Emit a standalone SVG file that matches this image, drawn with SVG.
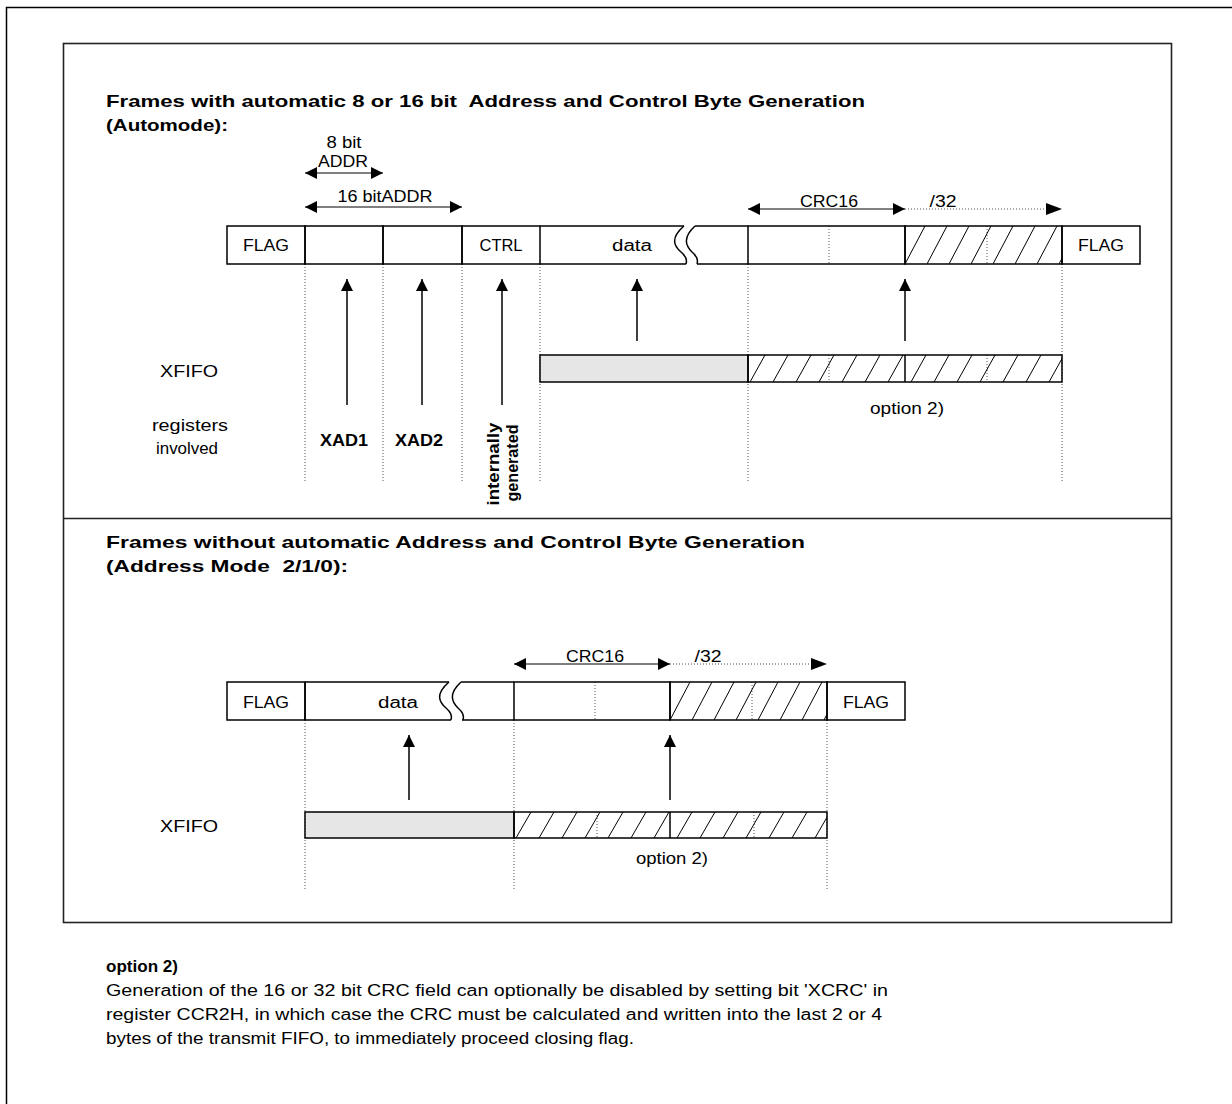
<svg xmlns="http://www.w3.org/2000/svg" width="1232" height="1104" viewBox="0 0 1232 1104">
<style>
text{font-family:"Liberation Sans",Arial,sans-serif;fill:#000;white-space:pre}
.t{font-size:16px}
.c{text-anchor:middle}
.b{font-weight:bold}
.h{font-size:17px;font-weight:bold}
.box{fill:none;stroke:#000;stroke-width:1.5}
.ln{fill:none;stroke:#000;stroke-width:1.5}
.dot{fill:none;stroke:#555;stroke-width:1;stroke-dasharray:1 2}
.hl{stroke:#000;stroke-width:1;fill:none}
.ah{fill:#000}
</style>
<defs>
<pattern id="pTop" patternUnits="userSpaceOnUse" x="905" y="226" width="22" height="38"><path class="hl" d="M0 38 L20 0"/></pattern>
<pattern id="pFifo" patternUnits="userSpaceOnUse" x="748" y="355" width="23" height="27"><path class="hl" d="M2 27 L17 0"/></pattern>
<pattern id="pBot" patternUnits="userSpaceOnUse" x="670" y="682" width="22" height="38"><path class="hl" d="M0 38 L20 0"/></pattern>
<pattern id="pFifoB" patternUnits="userSpaceOnUse" x="514" y="812" width="23" height="26"><path class="hl" d="M2 26 L17 0"/></pattern>
<marker id="arr" viewBox="0 0 10 10" refX="10" refY="5" markerWidth="16" markerHeight="12" markerUnits="userSpaceOnUse" orient="auto-start-reverse"><path d="M0 0 L10 5 L0 10 Z" class="ah"/></marker>
</defs>

<g id="outer-frame">
<path class="ln" d="M6.5 1104 V7.5 H1232"/>
<rect x="63.5" y="43.5" width="1108" height="879" fill="none" stroke="#222" stroke-width="1.6"/>
<line x1="63" y1="518.5" x2="1172" y2="518.5" stroke="#222" stroke-width="1.6"/>
</g>

<g id="title-top">
<text class="h" x="106" y="107" textLength="759" lengthAdjust="spacingAndGlyphs" xml:space="preserve">Frames with automatic 8 or 16 bit  Address and Control Byte Generation</text>
<text class="h" x="106" y="131" textLength="122" lengthAdjust="spacingAndGlyphs">(Automode):</text>
</g>

<g id="dotted-top">
<path class="dot" d="M305 264 V483 M383 264 V483 M462 264 V483 M540 264 V483 M748 264 V483 M1062 264 V483"/>
<path class="dot" d="M829 226 V264 M987 226 V264 M829 355 V382 M987 355 V382"/>
</g>

<g id="frame-top">
<rect class="box" x="227" y="226" width="78" height="38"/>
<rect class="box" x="305" y="226" width="78" height="38"/>
<rect class="box" x="383" y="226" width="79" height="38"/>
<rect class="box" x="462" y="226" width="78" height="38"/>
<path class="ln" d="M540 226 H684 M540 264 H686 M695 226 H748 M697 264 H748"/>
<path class="ln" d="M684 226 C670 238 674 246 681 252 C687 257 687 261 686 264"/>
<path class="ln" d="M695 226 C682 238 686 246 692 252 C698 257 698 261 697 264"/>
<rect class="box" x="748" y="226" width="157" height="38"/>
<rect x="905" y="226" width="157" height="38" fill="url(#pTop)" stroke="#000" stroke-width="1.5"/>
<rect class="box" x="1062" y="226" width="78" height="38"/>
<text class="t c" x="266" y="251" textLength="46" lengthAdjust="spacingAndGlyphs">FLAG</text>
<text class="t c" x="501" y="251" textLength="43" lengthAdjust="spacingAndGlyphs">CTRL</text>
<text class="t c" x="632" y="251" textLength="40" lengthAdjust="spacingAndGlyphs">data</text>
<text class="t c" x="1101" y="251" textLength="46" lengthAdjust="spacingAndGlyphs">FLAG</text>
</g>

<g id="dims-top">
<text class="t c" x="344" y="148" textLength="35" lengthAdjust="spacingAndGlyphs">8 bit</text>
<text class="t c" x="343" y="167" textLength="50" lengthAdjust="spacingAndGlyphs">ADDR</text>
<line class="hl" x1="305" y1="173" x2="383" y2="173" marker-start="url(#arr)" marker-end="url(#arr)"/>
<text class="t c" x="385" y="202" textLength="95" lengthAdjust="spacingAndGlyphs">16 bitADDR</text>
<line class="hl" x1="305" y1="207" x2="462" y2="207" marker-start="url(#arr)" marker-end="url(#arr)"/>
<text class="t c" x="829" y="207" textLength="58" lengthAdjust="spacingAndGlyphs">CRC16</text>
<text class="t c" x="943" y="207" textLength="27" lengthAdjust="spacingAndGlyphs">/32</text>
<line class="hl" x1="748" y1="209" x2="905" y2="209" marker-start="url(#arr)" marker-end="url(#arr)"/>
<line class="dot" x1="905" y1="209" x2="1048" y2="209"/>
<path class="ah" d="M1062 209 L1046 203 L1046 215 Z"/>
</g>

<g id="xfifo-top">
<rect x="540" y="355" width="208" height="27" fill="#e6e6e6" stroke="#000" stroke-width="1.5"/>
<rect x="748" y="355" width="314" height="27" fill="url(#pFifo)" stroke="#000" stroke-width="1.5"/>
<line class="ln" x1="905" y1="355" x2="905" y2="382"/>
<text class="t c" x="189" y="377" textLength="58" lengthAdjust="spacingAndGlyphs">XFIFO</text>
<text class="t c" x="907" y="414" textLength="74" lengthAdjust="spacingAndGlyphs">option 2)</text>
</g>

<g id="registers-top">
<text class="t c" x="190" y="431" textLength="76" lengthAdjust="spacingAndGlyphs">registers</text>
<text class="t c" x="187" y="454" textLength="62" lengthAdjust="spacingAndGlyphs">involved</text>
<text class="t c b" x="344" y="446" textLength="48" lengthAdjust="spacingAndGlyphs">XAD1</text>
<text class="t c b" x="419" y="446" textLength="48" lengthAdjust="spacingAndGlyphs">XAD2</text>
<text class="t c b" transform="translate(499 464) rotate(-90)" textLength="83" lengthAdjust="spacingAndGlyphs">internally</text>
<text class="t c b" transform="translate(518 463) rotate(-90)" textLength="77" lengthAdjust="spacingAndGlyphs">generated</text>
</g>

<g id="connectors">
<line class="ln" x1="347" y1="405" x2="347" y2="279" marker-end="url(#arr)"/>
<line class="ln" x1="422" y1="405" x2="422" y2="279" marker-end="url(#arr)"/>
<line class="ln" x1="502" y1="405" x2="502" y2="279" marker-end="url(#arr)"/>
<line class="ln" x1="637" y1="341" x2="637" y2="279" marker-end="url(#arr)"/>
<line class="ln" x1="905" y1="341" x2="905" y2="279" marker-end="url(#arr)"/>
<line class="ln" x1="409" y1="800" x2="409" y2="735" marker-end="url(#arr)"/>
<line class="ln" x1="670" y1="800" x2="670" y2="735" marker-end="url(#arr)"/>
</g>

<g id="title-bottom">
<text class="h" x="106" y="548" textLength="699" lengthAdjust="spacingAndGlyphs">Frames without automatic Address and Control Byte Generation</text>
<text class="h" x="106" y="572" textLength="242" lengthAdjust="spacingAndGlyphs" xml:space="preserve">(Address Mode  2/1/0):</text>
</g>

<g id="dotted-bottom">
<path class="dot" d="M305 720 V890 M514 720 V890 M827 720 V890"/>
<path class="dot" d="M595 682 V720 M752 682 V720 M597 812 V838 M754 812 V838"/>
</g>

<g id="frame-bottom">
<rect class="box" x="227" y="682" width="78" height="38"/>
<path class="ln" d="M305 682 H449 M305 720 H451 M305 682 V720 M461 682 H514 M462 720 H514"/>
<path class="ln" d="M449 682 C435 694 439 702 446 708 C452 713 452 717 451 720"/>
<path class="ln" d="M461 682 C448 694 452 702 458 708 C464 713 464 717 463 720"/>
<rect class="box" x="514" y="682" width="156" height="38"/>
<rect x="670" y="682" width="157" height="38" fill="url(#pBot)" stroke="#000" stroke-width="1.5"/>
<rect class="box" x="827" y="682" width="78" height="38"/>
<text class="t c" x="266" y="708" textLength="46" lengthAdjust="spacingAndGlyphs">FLAG</text>
<text class="t c" x="398" y="708" textLength="40" lengthAdjust="spacingAndGlyphs">data</text>
<text class="t c" x="866" y="708" textLength="46" lengthAdjust="spacingAndGlyphs">FLAG</text>
</g>

<g id="dims-bottom">
<text class="t c" x="595" y="662" textLength="58" lengthAdjust="spacingAndGlyphs">CRC16</text>
<text class="t c" x="708" y="662" textLength="27" lengthAdjust="spacingAndGlyphs">/32</text>
<line class="hl" x1="514" y1="664" x2="670" y2="664" marker-start="url(#arr)" marker-end="url(#arr)"/>
<line class="dot" x1="670" y1="664" x2="813" y2="664"/>
<path class="ah" d="M827 664 L811 658 L811 670 Z"/>
</g>

<g id="xfifo-bottom">
<rect x="305" y="812" width="209" height="26" fill="#e6e6e6" stroke="#000" stroke-width="1.5"/>
<rect x="514" y="812" width="313" height="26" fill="url(#pFifoB)" stroke="#000" stroke-width="1.5"/>
<line class="ln" x1="670" y1="812" x2="670" y2="838"/>
<text class="t c" x="189" y="832" textLength="58" lengthAdjust="spacingAndGlyphs">XFIFO</text>
<text class="t c" x="672" y="864" textLength="72" lengthAdjust="spacingAndGlyphs">option 2)</text>
</g>

<g id="note">
<text class="t b" x="106" y="972" textLength="72" lengthAdjust="spacingAndGlyphs">option 2)</text>
<text class="t" x="106" y="996" textLength="782" lengthAdjust="spacingAndGlyphs">Generation of the 16 or 32 bit CRC field can optionally be disabled by setting bit 'XCRC' in</text>
<text class="t" x="106" y="1020" textLength="776" lengthAdjust="spacingAndGlyphs">register CCR2H, in which case the CRC must be calculated and written into the last 2 or 4</text>
<text class="t" x="106" y="1044" textLength="528" lengthAdjust="spacingAndGlyphs">bytes of the transmit FIFO, to immediately proceed closing flag.</text>
</g>
</svg>
